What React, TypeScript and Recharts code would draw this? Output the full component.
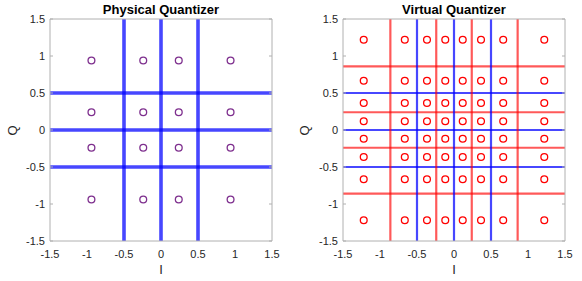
import React from 'react';
import { ScatterChart, Scatter, XAxis, YAxis, ReferenceLine } from 'recharts';

const TICKS = [-1.5, -1, -0.5, 0, 0.5, 1, 1.5];
const TICK_LABELS = ['-1.5', '-1', '-0.5', '0', '0.5', '1', '1.5'];
const PHYS_LEVELS = [-0.94, -0.24, 0.24, 0.94];
const PHYS_BOUNDS = [-0.5, 0, 0.5];
const VIRT_LEVELS = [-1.22, -0.665, -0.365, -0.118, 0.118, 0.365, 0.665, 1.22];
const VIRT_RED_BOUNDS = [-0.86, -0.24, 0.24, 0.86];
const VIRT_BLUE_BOUNDS = [-0.5, 0, 0.5];

const FONT = '"Liberation Sans", Arial, Helvetica, sans-serif';
const AXIS = '#b0b0b0';
const TEXT = '#262626';

const grid = (levels: number[]) =>
  levels.flatMap((q) => levels.map((i) => ({ i, q })));

const fmt = (v: number) => TICK_LABELS[TICKS.indexOf(v)] ?? String(v);

type LineSet = { values: number[]; color: string; width: number; opacity: number };

function Panel(props: {
  title: string;
  levels: number[];
  markerColor: string;
  lineSets: LineSet[];
  yWidth: number;
  right: number;
  qx: number;
}) {
  const { title, levels, markerColor, lineSets, yWidth, right, qx } = props;
  const data = grid(levels);
  const plotLeft = yWidth;
  const plotRight = 291 - right;
  const center = (plotLeft + plotRight) / 2;
  const empty = () => <g />;
  return (
    <div style={{ position: 'relative', width: 291, height: 281 }}>
      <ScatterChart
        width={291}
        height={281}
        margin={{ top: 19, right, bottom: 0, left: 0 }}
        style={{ fontFamily: FONT }}
      >
        <XAxis
          dataKey="i"
          type="number"
          domain={[-1.5, 1.5]}
          allowDataOverflow
          ticks={TICKS}
          tickFormatter={fmt}
          interval={0}
          tickLine={false}
          tickSize={0}
          tickMargin={9}
          axisLine={{ stroke: AXIS, strokeWidth: 1 }}
          tick={{ fill: TEXT, fontSize: 11, fontFamily: FONT }}
          height={40}
        />
        <XAxis
          xAxisId="bt"
          type="number"
          domain={[-1.5, 1.5]}
          allowDataOverflow
          ticks={TICKS}
          interval={0}
          orientation="bottom"
          mirror
          axisLine={false}
          tickSize={3}
          tickLine={{ stroke: AXIS }}
          tick={empty}
        />
        <XAxis
          xAxisId="t"
          type="number"
          domain={[-1.5, 1.5]}
          allowDataOverflow
          ticks={TICKS}
          interval={0}
          orientation="top"
          mirror
          axisLine={{ stroke: AXIS, strokeWidth: 1 }}
          tickSize={3}
          tickLine={{ stroke: AXIS }}
          tick={empty}
        />
        <YAxis
          dataKey="q"
          type="number"
          domain={[-1.5, 1.5]}
          allowDataOverflow
          ticks={TICKS}
          tickFormatter={fmt}
          interval={0}
          tickLine={false}
          tickSize={0}
          tickMargin={5}
          width={yWidth}
          axisLine={{ stroke: AXIS, strokeWidth: 1 }}
          tick={{ fill: TEXT, fontSize: 11, fontFamily: FONT }}
        />
        <YAxis
          yAxisId="lt"
          type="number"
          domain={[-1.5, 1.5]}
          allowDataOverflow
          ticks={TICKS}
          interval={0}
          orientation="left"
          mirror
          axisLine={false}
          tickSize={3}
          tickLine={{ stroke: AXIS }}
          tick={empty}
        />
        <YAxis
          yAxisId="r"
          type="number"
          domain={[-1.5, 1.5]}
          allowDataOverflow
          ticks={TICKS}
          interval={0}
          orientation="right"
          mirror
          axisLine={{ stroke: AXIS, strokeWidth: 1 }}
          tickSize={3}
          tickLine={{ stroke: AXIS }}
          tick={empty}
        />
        {lineSets.flatMap((ls, k) =>
          ls.values.map((v) => (
            <ReferenceLine
              key={`h${k}-${v}`}
              y={v}
              stroke={ls.color}
              strokeWidth={ls.width}
              strokeOpacity={ls.opacity}
              ifOverflow="hidden"
            />
          ))
        )}
        {lineSets.flatMap((ls, k) =>
          ls.values.map((v) => (
            <ReferenceLine
              key={`v${k}-${v}`}
              x={v}
              stroke={ls.color}
              strokeWidth={ls.width}
              strokeOpacity={ls.opacity}
              ifOverflow="hidden"
            />
          ))
        )}
        <Scatter
          data={data}
          isAnimationActive={false}
          shape={(p: any) => (
            <circle
              cx={p.cx}
              cy={p.cy}
              r={3.4}
              fill="none"
              stroke={markerColor}
              strokeWidth={1.3}
            />
          )}
        />
      </ScatterChart>
      <div
        style={{
          position: 'absolute',
          left: center - 100,
          width: 200,
          top: 2,
          textAlign: 'center',
          fontFamily: FONT,
          fontWeight: 'bold',
          fontSize: 13,
          color: '#000',
          lineHeight: '15px',
        }}
      >
        {title}
      </div>
      <div
        style={{
          position: 'absolute',
          left: center - 20,
          width: 40,
          top: 262,
          textAlign: 'center',
          fontFamily: FONT,
          fontSize: 13,
          color: TEXT,
          lineHeight: '15px',
        }}
      >
        I
      </div>
      <div
        style={{
          position: 'absolute',
          left: qx - 20,
          width: 40,
          top: 123,
          textAlign: 'center',
          fontFamily: FONT,
          fontSize: 13,
          color: TEXT,
          lineHeight: '15px',
          transform: 'rotate(-90deg)',
        }}
      >
        Q
      </div>
    </div>
  );
}

export default function App() {
  return (
    <div
      style={{
        position: 'absolute',
        left: 0,
        top: 0,
        width: 582,
        height: 281,
        background: '#fff',
        display: 'flex',
      }}
    >
      <Panel
        title="Physical Quantizer"
        levels={PHYS_LEVELS}
        markerColor="#7e2f8e"
        lineSets={[{ values: PHYS_BOUNDS, color: '#0000ff', width: 3.6, opacity: 0.72 }]}
        yWidth={50}
        right={19}
        qx={12}
      />
      <Panel
        title="Virtual Quantizer"
        levels={VIRT_LEVELS}
        markerColor="#ff0000"
        lineSets={[
          { values: VIRT_RED_BOUNDS, color: '#ff0000', width: 2.2, opacity: 0.65 },
          { values: VIRT_BLUE_BOUNDS, color: '#0000ff', width: 2.2, opacity: 0.72 },
        ]}
        yWidth={52}
        right={17}
        qx={13}
      />
    </div>
  );
}
